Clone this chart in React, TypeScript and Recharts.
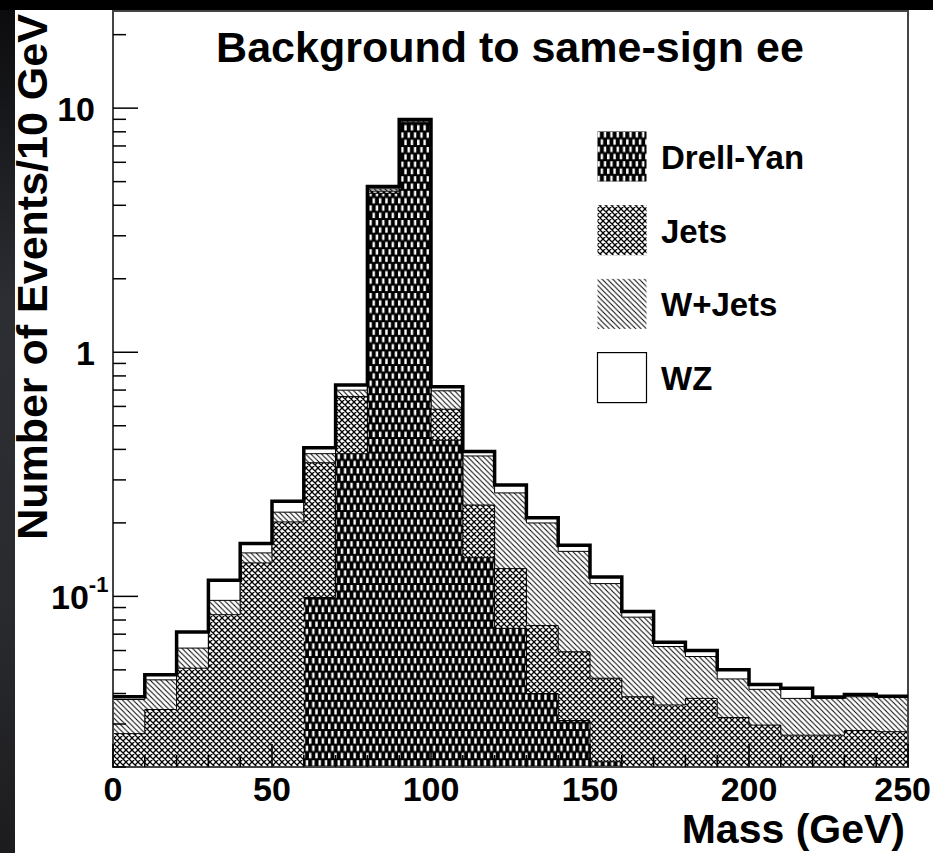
import React from 'react';
import { ComposedChart, Area, Line, XAxis, YAxis, Legend, ReferenceArea } from 'recharts';

// Histogram binning: 10 GeV bins from 0 to 250 GeV
const binEdges = [0, 10, 20, 30, 40, 50, 60, 70, 80, 90, 100, 110, 120, 130, 140, 150, 160, 170, 180, 190, 200, 210, 220, 230, 240, 250];

// Events per bin for each background (stacked bottom-up in this order)
const drellYan = [0, 0, 0, 0, 0, 0, 0.099, 0.384, 4.48, 8.65, 0.436, 0.144, 0.074, 0.040, 0.031, 0.021, 0, 0, 0, 0, 0, 0, 0, 0, 0];
const jets = [0.0274, 0.0344, 0.0508, 0.0841, 0.1371, 0.2018, 0.2537, 0.2743, 0.09, 0.07, 0.1485, 0.0927, 0.0559, 0.0359, 0.0283, 0.0252, 0.0388, 0.0359, 0.0382, 0.0319, 0.0297, 0.0270, 0.0270, 0.0282, 0.0279];
const wJets = [0.0104, 0.0111, 0.0106, 0.0122, 0.0136, 0.0195, 0.0315, 0.0411, 0.10, 0.13, 0.1107, 0.1393, 0.1355, 0.124, 0.0936, 0.0666, 0.0434, 0.0264, 0.0185, 0.014, 0.0119, 0.0112, 0.0112, 0.0106, 0.0106];
const wz = [0.001, 0.0022, 0.01, 0.0201, 0.0139, 0.0242, 0.0222, 0.0357, 0.10, 0.13, 0.0267, 0.0158, 0.0202, 0.0098, 0.009, 0.0072, 0.0046, 0.0026, 0.0033, 0.0041, 0.002, 0.0038, 0.0005, 0.0008, 0.0005];

// Axis ticks
const yTicks = [0.02, 0.03, 0.04, 0.05, 0.06, 0.07, 0.08, 0.09, 0.1, 0.2, 0.3, 0.4, 0.5, 0.6, 0.7, 0.8, 0.9, 1, 2, 3, 4, 5, 6, 7, 8, 9, 10, 20];
const yMajorTicks = [0.1, 1, 10];
const xTicks = [0, 10, 20, 30, 40, 50, 60, 70, 80, 90, 100, 110, 120, 130, 140, 150, 160, 170, 180, 190, 200, 210, 220, 230, 240, 250];
const xMajorTicks = [0, 50, 100, 150, 200, 250];

const Y_MIN = 0.02;
const Y_MAX = 25;
const X_MAX = 250;

const WIDTH = 933;
const HEIGHT = 853;
const MARGIN = { top: 11, right: 25, bottom: 0, left: 13 };
const Y_AXIS_WIDTH = 100;
const X_AXIS_HEIGHT = 86;
const PLOT_LEFT = MARGIN.left + Y_AXIS_WIDTH;
const PLOT_BOTTOM = HEIGHT - MARGIN.bottom - X_AXIS_HEIGHT;

const FONT = '"Liberation Sans", Arial, Helvetica, sans-serif';
const TICK_FONT = 34;

// Step-histogram table: each bin contributes its low and high edge with the
// cumulative stack heights, so linear segments trace the bin outlines.
type Row = { x: number; dy: number | null; j: number; w: number; t: number };
const rows: Row[] = [];
for (let i = 0; i < drellYan.length; i++) {
  const dy = drellYan[i];
  const j = dy + jets[i];
  const w = j + wJets[i];
  const t = w + wz[i];
  const rec = { dy: dy > 0 ? dy : null, j, w, t };
  rows.push({ x: binEdges[i], ...rec });
  rows.push({ x: binEdges[i + 1], ...rec });
}

const legendItems = [
  { name: 'Drell-Yan', fill: 'url(#fill-dy)', border: false },
  { name: 'Jets', fill: 'url(#fill-jets)', border: false },
  { name: 'W+Jets', fill: 'url(#fill-wjets)', border: false },
  { name: 'WZ', fill: '#fff', border: true },
];

const YTick = (props: any) => {
  const { y, payload } = props;
  const v = payload.value;
  const major = yMajorTicks.includes(v);
  const len = major ? 25 : 13;
  let label: React.ReactNode = null;
  if (major) {
    if (v === 0.1) {
      label = (
        <text x={51} y={y + 13} fontSize={TICK_FONT} fontWeight="bold" fontFamily={FONT} fill="#000">
          <tspan>10</tspan>
          <tspan dy={-17} fontSize={22}>-1</tspan>
        </text>
      );
    } else {
      label = (
        <text x={95} y={y + 13} fontSize={TICK_FONT} fontWeight="bold" fontFamily={FONT} fill="#000" textAnchor="end">
          {v === 1 ? '1' : '10'}
        </text>
      );
    }
  }
  return (
    <g>
      <line x1={PLOT_LEFT} x2={PLOT_LEFT + len} y1={y} y2={y} stroke="#000" strokeWidth={1.5} />
      {label}
    </g>
  );
};

const XTick = (props: any) => {
  const { x, payload } = props;
  const v = payload.value;
  const major = xMajorTicks.includes(v);
  const len = major ? 23 : 12;
  // the last label sits flush against the right edge of the canvas
  const last = v === X_MAX;
  return (
    <g>
      <line x1={x} x2={x} y1={PLOT_BOTTOM} y2={PLOT_BOTTOM - len} stroke="#000" strokeWidth={1.5} />
      {major && (
        <text
          x={last ? WIDTH - 2 : x}
          y={PLOT_BOTTOM + 34}
          fontSize={TICK_FONT}
          fontWeight="bold"
          fontFamily={FONT}
          fill="#000"
          textAnchor={last ? 'end' : 'middle'}
        >
          {String(v)}
        </text>
      )}
    </g>
  );
};

const LegendBox = () => (
  <svg width={300} height={290} style={{ display: 'block', overflow: 'visible' }}>
    {legendItems.map((item, i) => {
      const top = i * 73.7;
      return (
        <g key={item.name}>
          <rect
            x={0.5}
            y={top + 0.5}
            width={49}
            height={50}
            fill={item.fill}
            stroke={item.border ? '#000' : 'none'}
            strokeWidth={1.2}
          />
          <text x={64} y={top + 38} fontSize={33} fontWeight="bold" fontFamily={FONT} fill="#000">
            {item.name}
          </text>
        </g>
      );
    })}
  </svg>
);

export default function App() {
  return (
    <div
      style={{
        position: 'absolute',
        left: 0,
        top: 0,
        width: WIDTH,
        height: HEIGHT,
        background: '#000',
        overflow: 'hidden',
      }}
    >
      <div
        style={{
          position: 'absolute',
          left: 0,
          top: 10,
          width: 15,
          height: HEIGHT - 10,
          background: 'linear-gradient(to bottom, #0c0c0e, #2c2e33 35%, #2a2b2f 70%, #1c1c1e)',
        }}
      />
      <div style={{ position: 'absolute', left: 15, top: 10, width: WIDTH - 15, height: HEIGHT - 10, background: '#fff' }} />

      <svg width={0} height={0} style={{ position: 'absolute' }}>
        <defs>
          <pattern id="fill-dy" patternUnits="userSpaceOnUse" width={6.36} height={14.6}>
            <rect width={6.36} height={14.6} fill="#000" />
            <rect x={0.5} y={1} width={2.4} height={5.4} fill="#fff" />
            <rect x={3.68} y={8.3} width={2.4} height={5.4} fill="#fff" />
          </pattern>
          <pattern id="fill-jets" patternUnits="userSpaceOnUse" width={6} height={6}>
            <rect width={6} height={6} fill="#fff" />
            <path
              d="M-1,1 L1,-1 M0,6 L6,0 M5,7 L7,5 M-1,5 L1,7 M0,0 L6,6 M5,-1 L7,1"
              stroke="#000"
              strokeWidth={1.3}
            />
          </pattern>
          <pattern id="fill-wjets" patternUnits="userSpaceOnUse" width={5.3} height={5.3}>
            <rect width={5.3} height={5.3} fill="#fff" />
            <path d="M-1,4.3 L1,6.3 M0,0 L5.3,5.3 M4.3,-1 L6.3,1" stroke="#000" strokeWidth={1} />
          </pattern>
        </defs>
      </svg>

      <div style={{ position: 'absolute', left: 0, top: 0 }}>
        <ComposedChart width={WIDTH} height={HEIGHT} data={rows} margin={MARGIN}>
          <Area
            type="linear"
            dataKey="t"
            name="WZ"
            fill="#fff"
            fillOpacity={1}
            stroke="none"
            baseValue={Y_MIN}
            isAnimationActive={false}
          />
          <Area
            type="linear"
            dataKey="w"
            name="W+Jets"
            fill="url(#fill-wjets)"
            fillOpacity={1}
            stroke="#000"
            strokeWidth={1}
            baseValue={Y_MIN}
            isAnimationActive={false}
          />
          <Area
            type="linear"
            dataKey="j"
            name="Jets"
            fill="url(#fill-jets)"
            fillOpacity={1}
            stroke="#000"
            strokeWidth={1}
            baseValue={Y_MIN}
            isAnimationActive={false}
          />
          <Area
            type="linear"
            dataKey="dy"
            name="Drell-Yan"
            fill="url(#fill-dy)"
            fillOpacity={1}
            stroke="#000"
            strokeWidth={1}
            baseValue={Y_MIN}
            connectNulls={false}
            isAnimationActive={false}
          />
          <Line
            type="linear"
            dataKey="t"
            name="Total"
            stroke="#000"
            strokeWidth={3.5}
            strokeLinejoin="miter"
            dot={false}
            activeDot={false}
            legendType="none"
            isAnimationActive={false}
          />
          <ReferenceArea x1={0} x2={X_MAX} y1={Y_MIN} y2={Y_MAX} fill="none" stroke="#444" strokeWidth={2} />
          <XAxis
            dataKey="x"
            type="number"
            domain={[0, X_MAX]}
            ticks={xTicks}
            interval={0}
            allowDataOverflow
            height={X_AXIS_HEIGHT}
            axisLine={false}
            tickLine={false}
            tickSize={0}
            tickMargin={0}
            tick={<XTick />}
          />
          <YAxis
            type="number"
            scale="log"
            domain={[Y_MIN, Y_MAX]}
            ticks={yTicks}
            interval={0}
            allowDataOverflow
            width={Y_AXIS_WIDTH}
            axisLine={false}
            tickLine={false}
            tickSize={0}
            tickMargin={0}
            tick={<YTick />}
          />
          <Legend
            layout="vertical"
            align="center"
            verticalAlign="middle"
            wrapperStyle={{ left: 597, top: 131, width: 300, height: 290 }}
            content={() => <LegendBox />}
          />
          <text
            x={510}
            y={62}
            textAnchor="middle"
            fontSize={43}
            fontWeight="bold"
            fontFamily={FONT}
            fill="#000"
          >
            Background to same-sign ee
          </text>
          <text
            x={47}
            y={277}
            transform="rotate(-90 47 277)"
            textAnchor="middle"
            fontSize={43}
            fontWeight="bold"
            fontFamily={FONT}
            fill="#000"
          >
            Number of Events/10 GeV
          </text>
          <text
            x={905}
            y={843}
            textAnchor="end"
            fontSize={41}
            fontWeight="bold"
            fontFamily={FONT}
            fill="#000"
          >
            Mass (GeV)
          </text>
        </ComposedChart>
      </div>
    </div>
  );
}
